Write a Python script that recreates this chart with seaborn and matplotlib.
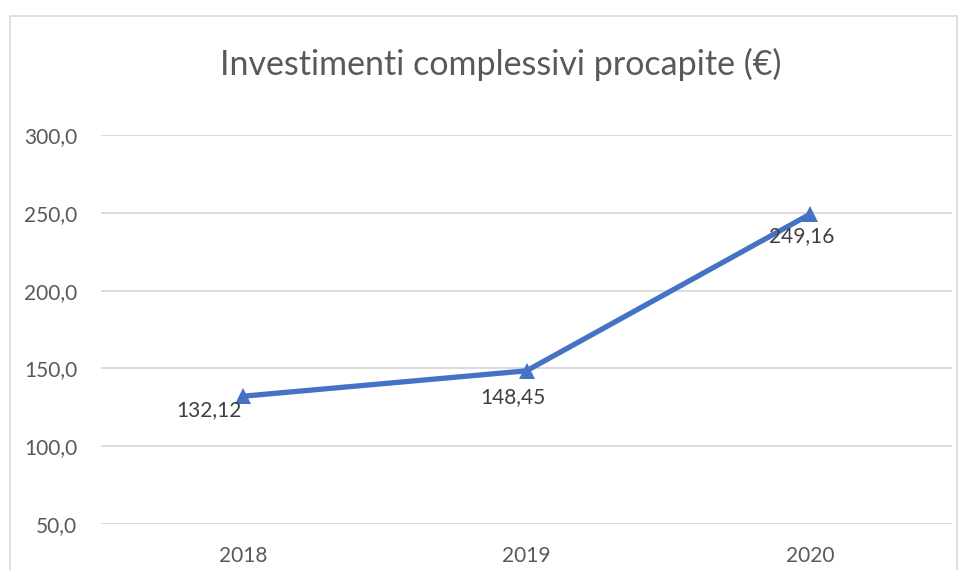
import pandas as pd
import seaborn as sns
from matplotlib import pyplot as plt
from matplotlib.patches import Rectangle

sns.set_style('white')
plt.rcParams['font.family'] = ['Lato', 'DejaVu Sans']

years = ['2018', '2019', '2020']
values = [132.12, 148.45, 249.16]
value_labels = ['132,12', '148,45', '249,16']
label_offsets = [(-24.5, -10), (-10, -19), (-6, -16)]

df = pd.DataFrame({'anno': years, 'valore': values})

fig = plt.figure(figsize=(9.59, 5.70), dpi=100)
ax = fig.add_axes([101 / 959, 1 - 524 / 570, 851 / 959, 389 / 570])

sns.lineplot(x='anno', y='valore', data=df, ax=ax, color='#4472C4', linewidth=3.8,
             marker='^', markersize=12, markeredgewidth=0, sort=False)

for x, v, t, off in zip(range(len(years)), values, value_labels, label_offsets):
    ax.annotate(t, (x, v), xytext=off, textcoords='offset points', ha='center', va='center',
                fontsize=15, color='#404040')

ax.set_ylim(50, 300)
ax.set_xlim(-0.5, 2.5)
ax.set_yticks([50, 100, 150, 200, 250, 300])
ax.set_yticklabels(['{:.1f}'.format(v).replace('.', ',') for v in [50, 100, 150, 200, 250, 300]])
ax.yaxis.grid(True, color='#d9d9d9', linewidth=1.3)
ax.set_axisbelow(True)
for s in ax.spines.values():
    s.set_visible(False)
ax.tick_params(axis='both', length=0, labelsize=15, labelcolor='#595959')
ax.tick_params(axis='y', pad=17)
ax.tick_params(axis='x', pad=16)
ax.set_xlabel('')
ax.set_ylabel('')

fig.text(501 / 959, 1 - 64 / 570, 'Investimenti complessivi procapite (€)', ha='center', va='center',
         fontsize=24.5, color='#595959')

fig.patches.append(Rectangle((10 / 959, -0.05), 947 / 959, 1.05 - 16 / 570, transform=fig.transFigure,
                             fill=False, edgecolor='#d9d9d9', linewidth=1.2))

plt.savefig('out.png', dpi=100)
